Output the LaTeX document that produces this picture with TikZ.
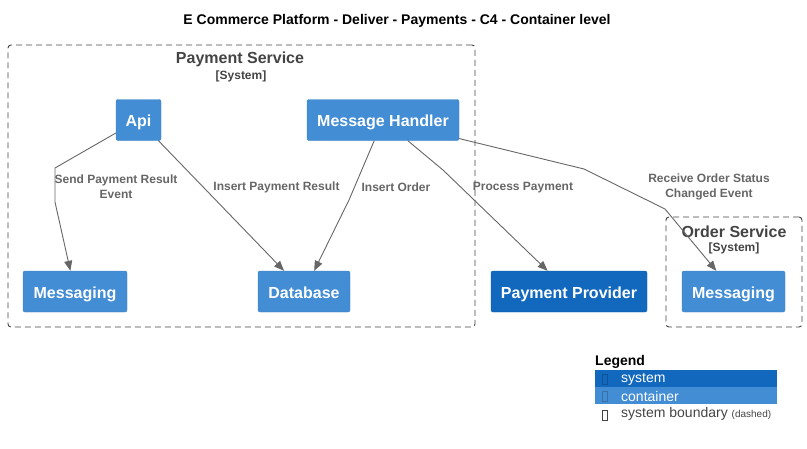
\documentclass[tikz,border=0pt]{standalone}
\usepackage{fontspec}
\setmainfont{Liberation Sans}
\usetikzlibrary{arrows.meta}
\definecolor{cont}{HTML}{438DD5}
\definecolor{sys}{HTML}{1168BD}
\definecolor{edgec}{HTML}{666666}
\definecolor{bnd}{HTML}{444444}
\tikzset{
  containerbox/.style={draw=cont!90!black, line width=0.4pt, fill=cont, rounded corners=2pt, text=white,
    font=\fontsize{16}{19}\selectfont\bfseries, inner sep=0pt, minimum height=41, text height=13, text depth=0},
  systembox/.style={draw=sys!90!black, line width=0.4pt, fill=sys, rounded corners=2pt, text=white,
    font=\fontsize{16}{19}\selectfont\bfseries, inner sep=0pt, minimum height=41, text height=13, text depth=0},
  boundary/.style={draw=bnd, line width=0.9pt, dash pattern=on 6pt off 4pt, rounded corners=3pt, inner sep=0pt},
  btitle/.style={text=bnd, font=\fontsize{16}{18}\selectfont\bfseries, inner sep=0pt},
  bsub/.style={text=bnd, font=\fontsize{12}{14}\selectfont\bfseries, inner sep=0pt},
  rel/.style={draw=edgec, line width=0.9pt, -{Triangle[length=10pt,width=8pt]}},
  rlabel/.style={text=edgec, font=\fontsize{12}{15}\selectfont\bfseries, align=center, inner sep=0pt},
  legtext/.style={font=\fontsize{14}{16}\selectfont, inner sep=0pt, anchor=west},
}
\begin{document}
\begin{tikzpicture}[x=1pt,y=-1pt]
\useasboundingbox (0,0) rectangle (807,448);
\node[font=\fontsize{14}{16}\selectfont\bfseries, inner sep=0pt] (title) at (397,20.5) {E Commerce Platform - Deliver - Payments - C4 - Container level};

% boundaries
\node[boundary, minimum width=467, minimum height=282] (ps) at (241.5,186) {};
\node[btitle] (pst) at (240,59.5) {Payment Service};
\node[bsub] (pss) at (241,76) {[System]};
\node[boundary, minimum width=136, minimum height=110] (os) at (734,272) {};
\node[btitle] (ost) at (734,231.5) {Order Service};
\node[bsub] (oss) at (734,248) {[System]};

% nodes
\node[containerbox, minimum width=45] (api) at (138.5,120) {Api};
\node[containerbox, minimum width=152] (mh) at (383,120) {Message Handler};
\node[containerbox, minimum width=104] (msg1) at (75,291.5) {Messaging};
\node[containerbox, minimum width=92] (db) at (304,291.5) {Database};
\node[systembox, minimum width=156] (pp) at (569,291.5) {Payment Provider};
\node[containerbox, minimum width=103] (msg2) at (733.5,291.5) {Messaging};

% bends
\coordinate (a1) at (55,168);
\coordinate (a2) at (55,202);
\coordinate (b1) at (349,200);
\coordinate (c1) at (443,170);
\coordinate (d1) at (584,169);
\coordinate (d2) at (665,209);

% relations
\draw[rel] (api) -- (a1) -- (a2) -- (msg1);
\draw[rel] (api) -- (db);
\draw[rel] (mh) -- (b1) -- (db);
\draw[rel] (mh) -- (c1) -- (pp);
\draw[rel] (mh) -- (d1) -- (d2) -- (msg2);

% labels
\node[rlabel] (l1) at (116,187) {Send Payment Result\\Event};
\node[rlabel] (l2) at (276.5,187.5) {Insert Payment Result};
\node[rlabel] (l3) at (396,187.5) {Insert Order};
\node[rlabel] (l4) at (523,187.5) {Process Payment};
\node[rlabel] (l5) at (709,187) {Receive Order Status\\Changed Event};

% legend
\node[font=\fontsize{14}{16}\selectfont\bfseries, inner sep=0pt, anchor=west] (lg) at (595,361.5) {Legend};
\node[fill=sys, inner sep=0pt, minimum width=182, minimum height=17, anchor=north west] (lsys) at (595,370) {};
\node[fill=cont, inner sep=0pt, minimum width=182, minimum height=17, anchor=north west] (lcont) at (595,387) {};
\draw[sys!80!black, line width=0.6pt] (602,374) rectangle (607,384);
\draw[cont!80!black, line width=0.6pt] (602,391) rectangle (607,401);
\draw[bnd, line width=0.7pt] (602,410) rectangle (607,420);
\node[legtext, text=white] (lt1) at (621,379.5) {system};
\node[legtext, text=white] (lt2) at (621,396.5) {container};
\node[legtext, text=bnd] (lt3) at (621,413.5) {system boundary {\fontsize{10}{11}\selectfont (dashed)}};
\end{tikzpicture}
\end{document}
